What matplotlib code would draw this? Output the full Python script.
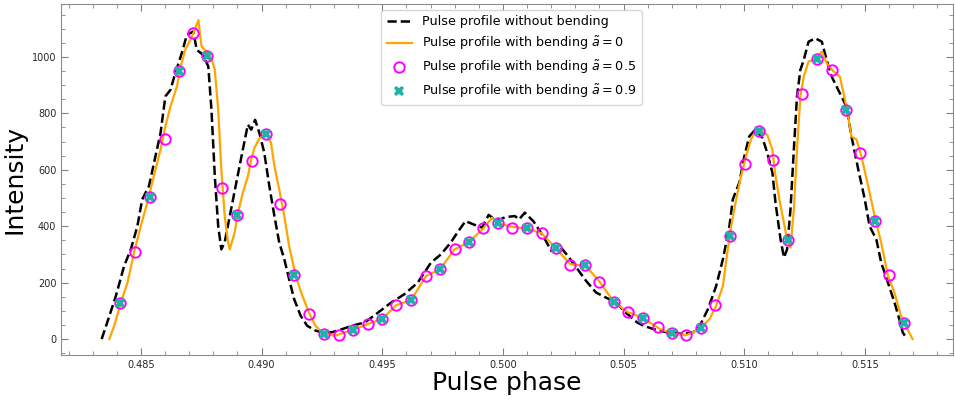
import matplotlib
matplotlib.use('Agg')
import matplotlib.pyplot as plt
from matplotlib.ticker import AutoMinorLocator

# profile without light bending
phase_nb = [0.48337, 0.48369, 0.48396, 0.48430, 0.48458, 0.48485, 0.48505, 0.48533,
            0.48560, 0.48581, 0.48601, 0.48622, 0.48642, 0.48669, 0.48690, 0.48717,
            0.48731, 0.48758, 0.48779, 0.48792, 0.48806, 0.48820, 0.48833, 0.48847,
            0.48868, 0.48895, 0.48922, 0.48943, 0.48957, 0.48973, 0.48991, 0.49011,
            0.49032, 0.49053, 0.49073, 0.49094, 0.49114, 0.49135, 0.49162, 0.49189,
            0.49223, 0.49251, 0.49292, 0.49333, 0.49374, 0.49428, 0.49483, 0.49538,
            0.49592, 0.49647, 0.49702, 0.49743, 0.49784, 0.49811, 0.49845, 0.49879,
            0.49914, 0.49941, 0.49975, 0.50009, 0.50050, 0.50067, 0.50091, 0.50126,
            0.50167, 0.50201, 0.50235, 0.50269, 0.50310, 0.50345, 0.50386, 0.50427,
            0.50468, 0.50509, 0.50556, 0.50584, 0.50625, 0.50679, 0.50748, 0.50789,
            0.50816, 0.50850, 0.50884, 0.50912, 0.50939, 0.50953, 0.50980, 0.51001,
            0.51021, 0.51048, 0.51076, 0.51096, 0.51117, 0.51130, 0.51151, 0.51165,
            0.51178, 0.51192, 0.51206, 0.51219, 0.51233, 0.51247, 0.51267, 0.51295,
            0.51322, 0.51342, 0.51363, 0.51390, 0.51424, 0.51445, 0.51473, 0.51500,
            0.51520, 0.51548, 0.51568, 0.51596, 0.51623, 0.51643, 0.51657, 0.51666]
int_nb = [0, 82, 153, 259, 318, 400, 495, 542,
          648, 730, 860, 883, 942, 1013, 1078, 1090,
          1025, 1007, 966, 813, 577, 400, 318, 343,
          436, 554, 671, 760, 742, 777, 730, 660,
          542, 436, 342, 283, 212, 141, 82, 47,
          30, 24, 24, 35, 47, 59, 94, 130,
          159, 200, 271, 300, 342, 377, 418, 406,
          395, 440, 418, 432, 436, 424, 448, 418,
          365, 312, 330, 295, 247, 206, 165, 147,
          130, 94, 59, 47, 35, 24, 18, 24,
          47, 106, 188, 283, 400, 495, 554, 648,
          718, 744, 712, 660, 590, 483, 353, 289,
          318, 459, 671, 860, 954, 989, 1054, 1066,
          1054, 989, 930, 883, 824, 718, 601, 495,
          400, 353, 271, 200, 130, 71, 24, 12]

# profile with bending, a = 0
phase_a0 = [0.48369, 0.48389, 0.48417, 0.48444, 0.48471, 0.48499, 0.48526, 0.48553,
            0.48581, 0.48601, 0.48622, 0.48649, 0.48663, 0.48683, 0.48697, 0.48717,
            0.48738, 0.48751, 0.48772, 0.48792, 0.48806, 0.48820, 0.48833, 0.48847,
            0.48861, 0.48868, 0.48888, 0.48902, 0.48922, 0.48943, 0.48957, 0.48970,
            0.48991, 0.49018, 0.49039, 0.49053, 0.49073, 0.49094, 0.49114, 0.49141,
            0.49169, 0.49196, 0.49223, 0.49258, 0.49305, 0.49346, 0.49378, 0.49439,
            0.49500, 0.49558, 0.49620, 0.49681, 0.49739, 0.49800, 0.49858, 0.49919,
            0.49955, 0.49981, 0.50038, 0.50100, 0.50161, 0.50219, 0.50280, 0.50342,
            0.50399, 0.50461, 0.50518, 0.50543, 0.50597, 0.50652, 0.50707, 0.50761,
            0.50816, 0.50857, 0.50884, 0.50912, 0.50932, 0.50946, 0.50967, 0.50987,
            0.51008, 0.51028, 0.51048, 0.51076, 0.51096, 0.51117, 0.51130, 0.51151,
            0.51165, 0.51178, 0.51192, 0.51206, 0.51219, 0.51233, 0.51247, 0.51267,
            0.51295, 0.51322, 0.51342, 0.51370, 0.51397, 0.51424, 0.51445, 0.51466,
            0.51486, 0.51514, 0.51544, 0.51568, 0.51596, 0.51623, 0.51650, 0.51677,
            0.51698]
int_a0 = [0, 47, 130, 200, 306, 400, 483, 577,
          671, 754, 824, 895, 960, 1025, 1048, 1084,
          1131, 1037, 1019, 995, 954, 813, 601, 436,
          342, 318, 377, 448, 518, 577, 636, 677,
          712, 730, 695, 613, 530, 436, 330, 224,
          153, 94, 47, 18, 12, 24, 32, 53,
          71, 120, 138, 223, 247, 318, 343, 392,
          430, 410, 398, 392, 375, 322, 265, 261,
          205, 131, 95, 88, 65, 35, 18, 14,
          35, 71, 118, 188, 318, 400, 495, 577,
          648, 707, 736, 736, 724, 671, 577, 471,
          412, 353, 324, 459, 671, 860, 930, 984,
          989, 1019, 978, 949, 930, 824, 718, 707,
          648, 542, 424, 342, 224, 165, 82, 35,
          0]

# profile with bending, a = 0.5
phase_a05 = [0.48414, 0.48475, 0.48537, 0.48598, 0.48656, 0.48717, 0.48775, 0.48836,
             0.48898, 0.48959, 0.49017, 0.49078, 0.49136, 0.49197, 0.49259, 0.49320,
             0.49378, 0.49439, 0.49500, 0.49558, 0.49620, 0.49681, 0.49739, 0.49800,
             0.49858, 0.49919, 0.49981, 0.50038, 0.50100, 0.50161, 0.50219, 0.50280,
             0.50342, 0.50399, 0.50461, 0.50518, 0.50580, 0.50641, 0.50699, 0.50760,
             0.50822, 0.50879, 0.50941, 0.51002, 0.51060, 0.51121, 0.51183, 0.51240,
             0.51302, 0.51363, 0.51421, 0.51482, 0.51544, 0.51601, 0.51662]
int_a05 = [127, 307, 505, 710, 950, 1085, 1003, 534,
           438, 632, 728, 477, 226, 88, 18, 14,
           32, 53, 71, 120, 138, 223, 247, 318,
           343, 392, 410, 392, 392, 375, 322, 261,
           261, 201, 131, 95, 74, 42, 21, 14,
           39, 120, 364, 622, 738, 636, 350, 869,
           993, 954, 813, 661, 420, 226, 57]

# profile with bending, a = 0.9
phase_a09 = [0.48414, 0.48537, 0.48656, 0.48775, 0.48898, 0.49017, 0.49136, 0.49259,
             0.49378, 0.49500, 0.49620, 0.49739, 0.49858, 0.49981, 0.50100, 0.50219,
             0.50342, 0.50461, 0.50580, 0.50699, 0.50822, 0.50941, 0.51060, 0.51183,
             0.51302, 0.51421, 0.51544, 0.51662]
int_a09 = [127, 505, 950, 1003, 438, 728, 226, 18,
           32, 71, 138, 247, 343, 410, 392, 322,
           261, 131, 74, 21, 39, 364, 738, 350,
           993, 813, 420, 57]

fig, ax = plt.subplots(figsize=(9.55, 4.0), dpi=100)
fig.subplots_adjust(left=0.064, right=0.998, top=0.99, bottom=0.1125)

ax.plot(phase_nb, int_nb, '--', color='black', lw=1.8, label='Pulse profile without bending')
ax.plot(phase_a0, int_a0, '-', color='orange', lw=1.6, label=r'Pulse profile with bending $\tilde{a}=0$')
ax.plot(phase_a05, int_a05, 'o', mfc='none', mec='magenta', ms=7.5, mew=1.4,
        label=r'Pulse profile with bending $\tilde{a}=0.5$')
ax.plot(phase_a09, int_a09, 'X', color='lightseagreen', ms=7.5, mew=0,
        label=r'Pulse profile with bending $\tilde{a}=0.9$')

ax.set_xlabel('Pulse phase', fontsize=18, labelpad=1)
ax.set_ylabel('Intensity', fontsize=18)
ax.set_xticks([0.485, 0.490, 0.495, 0.500, 0.505, 0.510, 0.515])
ax.set_yticks([0, 200, 400, 600, 800, 1000])
ax.xaxis.set_minor_locator(AutoMinorLocator())
ax.yaxis.set_minor_locator(AutoMinorLocator())
ax.tick_params(which='both', direction='in', top=True, right=True, colors='0.5',
               labelcolor='0.15', labelsize=7)
ax.tick_params(which='major', length=5)
ax.tick_params(which='minor', length=3)
for s in ax.spines.values():
    s.set_color('0.55')

ax.legend(loc='upper center', fontsize=9.2, bbox_to_anchor=(0.505, 1.0))

plt.savefig('out.png')
